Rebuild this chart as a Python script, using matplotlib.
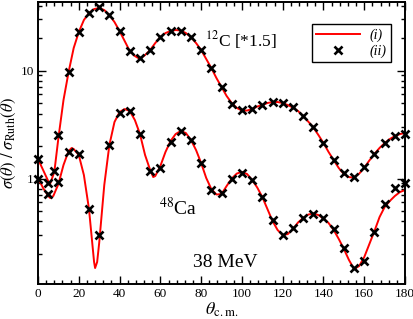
import numpy as np
import matplotlib
matplotlib.use("Agg")
import matplotlib.pyplot as plt
from matplotlib.ticker import MultipleLocator, LogLocator, FuncFormatter, NullFormatter

plt.rcParams['font.family'] = ['Liberation Serif', 'DejaVu Serif']
plt.rcParams['mathtext.fontset'] = 'stix'

# calculation (i): smooth curves, angle in degrees
c12_line_ang = [0, 2.5, 5, 6, 8, 10, 12.5, 15, 17.5, 20, 22.5, 25, 27.5, 30, 32.5, 35, 37.5,
                40, 42.5, 45, 47.5, 50, 52.5, 55, 57.5, 60, 62.5, 65, 67.5, 70, 72.5, 75,
                77.5, 80, 82.5, 85, 87.5, 90, 92.5, 95, 97.5, 100, 102.5, 105, 107.5, 110,
                112.5, 115, 117.5, 120, 122.5, 125, 127.5, 130, 132.5, 135, 137.5, 140,
                142.5, 145, 147.5, 150, 152.5, 155, 157.5, 160, 162.5, 165, 167.5, 170,
                172.5, 175, 177.5, 180]
c12_line = [1.516, 1.199, 0.948, 0.899, 1.149, 2.371, 5.33, 9.68, 16.16, 22.72, 29.35, 34.08,
            37.1, 37.9, 36.3, 32.66, 28.13, 23.21, 18.76, 15.16, 13.62, 12.78, 13.92, 15.48,
            17.97, 20.43, 22.24, 23.21, 23.71, 23.46, 22.24, 20.43, 17.97, 15.48, 12.78,
            10.55, 8.52, 7.03, 5.81, 5.00, 4.50, 4.26, 4.26, 4.40, 4.64, 4.79, 5.00, 5.11,
            5.11, 5.00, 4.79, 4.54, 4.22, 3.79, 3.37, 2.97, 2.53, 2.13, 1.76, 1.48, 1.25,
            1.10, 1.03, 1.02, 1.11, 1.26, 1.47, 1.69, 1.92, 2.13, 2.32, 2.47, 2.58, 2.64]

ca48_line_ang = [0, 2.5, 5, 6, 7.5, 10, 12.5, 15, 16.5, 17.5, 20, 22.5, 25, 27.5, 28, 29, 30,
                 32.5, 35, 37.5, 40, 42.5, 45, 47.5, 50, 52.5, 55, 56.5, 57.5, 60, 62.5, 65,
                 67.5, 70, 72.5, 75, 77.5, 80, 82.5, 85, 87.5, 90, 92.5, 95, 97.5, 100,
                 102.5, 105, 107.5, 110, 112.5, 115, 117.5, 120, 122.5, 125, 127.5, 130,
                 132.5, 135, 137.5, 140, 142.5, 145, 147.5, 150, 152.5, 155, 157.5, 160,
                 162.5, 165, 167.5, 170, 172.5, 175, 177.5, 180]
ca48_line = [1.01, 0.817, 0.689, 0.660, 0.689, 0.889, 1.334, 1.797, 1.916, 1.876, 1.651,
             1.077, 0.522, 0.1686, 0.1483, 0.1686, 0.2528, 0.871, 2.043, 3.336, 4.128, 4.40,
             4.217, 3.48, 2.582, 1.651, 1.199, 1.032, 1.055, 1.305, 1.759, 2.224, 2.582,
             2.754, 2.638, 2.273, 1.836, 1.392, 1.011, 0.799, 0.711, 0.719, 0.852, 1.0,
             1.112, 1.149, 1.101, 0.969, 0.826, 0.674, 0.522, 0.404, 0.3335, 0.2998, 0.306,
             0.3406, 0.3914, 0.431, 0.464, 0.474, 0.459, 0.426, 0.387, 0.3335, 0.2753,
             0.2224, 0.1759, 0.1452, 0.1548, 0.1875, 0.2474, 0.3265, 0.440, 0.5446, 0.619,
             0.689, 0.750, 0.782]

# calculation (ii): crosses
c12_pts_ang = [0, 5, 8] + list(range(10, 181, 5))
c12_pts = [1.52, 0.908, 1.173, 2.53, 9.7, 22.7, 34.0, 38.7, 32.7, 23.2, 15.1, 13.05, 15.5,
           20.3, 23.4, 23.4, 20.3, 15.5, 10.5, 7.0, 4.95, 4.28, 4.43, 4.8, 5.09, 4.97, 4.56,
           3.79, 2.98, 2.14, 1.48, 1.12, 1.03, 1.27, 1.69, 2.12, 2.48, 2.58]

ca48_pts_ang = list(range(0, 181, 5))
ca48_pts = [1.0, 0.714, 0.92, 1.75, 1.68, 0.518, 0.30, 2.04, 4.07, 4.22, 2.57, 1.17, 1.24,
            2.19, 2.75, 2.27, 1.40, 0.79, 0.73, 1.0, 1.13, 0.97, 0.68, 0.41, 0.30, 0.346,
            0.43, 0.47, 0.435, 0.339, 0.226, 0.147, 0.172, 0.323, 0.578, 0.817, 0.914]

fig = plt.figure(figsize=(4.14, 3.19), dpi=100)
ax = fig.add_axes([0.0918, 0.1097, 0.8866, 0.884])

ax.plot(c12_line_ang, c12_line, color='red', lw=1.4, label='(i)', zorder=2)
ax.plot(ca48_line_ang, ca48_line, color='red', lw=1.4, zorder=2)
ax.plot(c12_pts_ang, c12_pts, ls='none', marker='x', ms=5.5, mew=1.9, color='black',
        label='(ii)', clip_on=False, zorder=3)
ax.plot(ca48_pts_ang, ca48_pts, ls='none', marker='x', ms=5.5, mew=1.9, color='black',
        clip_on=False, zorder=3)

ax.set_yscale('log')
ax.set_xlim(0, 180)
ax.set_ylim(0.1055, 43.1)

ax.xaxis.set_major_locator(MultipleLocator(20))
ax.xaxis.set_minor_locator(MultipleLocator(4))
ax.yaxis.set_major_locator(LogLocator(base=10))
ax.yaxis.set_minor_locator(LogLocator(base=10, subs=np.arange(2, 10)))
ax.yaxis.set_major_formatter(FuncFormatter(lambda v, p: '%g' % v))
ax.yaxis.set_minor_formatter(NullFormatter())

ax.tick_params(which='both', direction='in', top=True, right=True, width=1,
               labelsize=9.5, pad=3)
ax.tick_params(which='major', length=6)
ax.tick_params(which='minor', length=3)
for s in ax.spines.values():
    s.set_linewidth(1.4)

ax.set_xlabel(r'$\theta_{\rm c.m.}$', fontsize=13, labelpad=0)
ax.set_ylabel(r'$\sigma(\theta)\ /\ \sigma_{\rm Ruth}(\theta)$', fontsize=12, labelpad=2)

ax.text(0.455, 0.865, r'$^{12}$C [*1.5]', transform=ax.transAxes, fontsize=12.5,
        ha='left', va='center')
ax.text(0.381, 0.27, r'$^{48}$Ca', transform=ax.transAxes, fontsize=14,
        ha='center', va='center')
ax.text(0.51, 0.078, '38 MeV', transform=ax.transAxes, fontsize=14,
        ha='center', va='center')

leg = ax.legend(loc='upper right', bbox_to_anchor=(0.962, 0.922), borderaxespad=0,
                fancybox=False, edgecolor='black', framealpha=1, handlelength=3.2,
                handletextpad=0.7, prop={'style': 'italic', 'size': 10},
                borderpad=0.3, labelspacing=0.2)
leg.get_frame().set_linewidth(1)

fig.savefig('out.png', dpi=100)
